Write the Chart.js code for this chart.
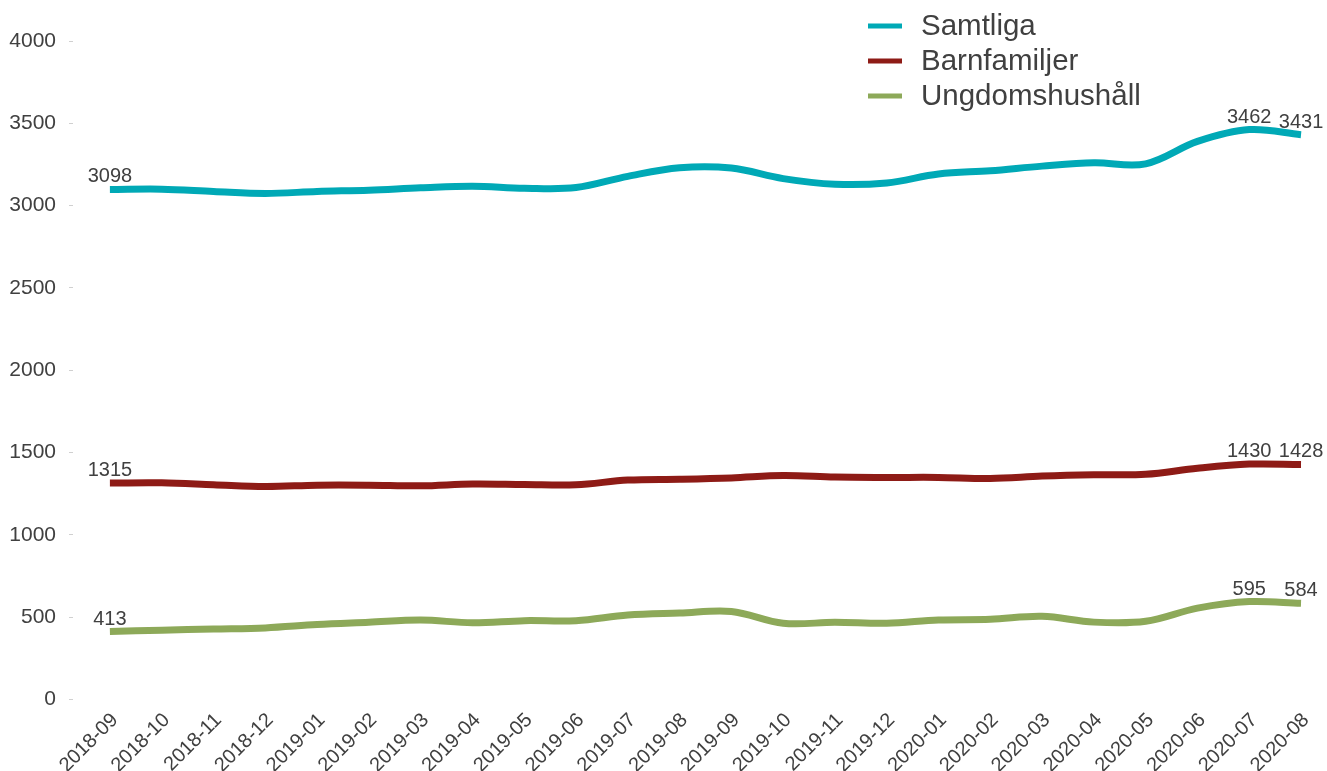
<!DOCTYPE html>
<html><head><meta charset="utf-8">
<script src="https://cdn.jsdelivr.net/npm/chart.js@4.4.0/dist/chart.umd.min.js"></script>
<style>html,body{margin:0;padding:0;background:#fff;overflow:hidden}#wrap{width:1327px;height:771px;position:relative}</style>
</head><body><div id="wrap"><canvas id="c"></canvas></div>
<script>
const categories = ['2018-09','2018-10','2018-11','2018-12','2019-01','2019-02','2019-03','2019-04','2019-05','2019-06','2019-07','2019-08','2019-09','2019-10','2019-11','2019-12','2020-01','2020-02','2020-03','2020-04','2020-05','2020-06','2020-07','2020-08'];
const samtliga = [3098,3100,3086,3074,3086,3094,3108,3118,3106,3110,3178,3230,3228,3164,3130,3138,3192,3212,3240,3260,3254,3390,3462,3431];
const barnfamiljer = [1315,1316,1305,1294,1302,1302,1298,1309,1306,1304,1333,1338,1346,1360,1351,1349,1349,1343,1357,1365,1368,1405,1430,1428];
const ungdomshushall = [413,421,428,435,455,469,483,466,479,479,513,525,535,463,469,463,483,487,505,470,475,555,595,584];
const seriesNames = ['Samtliga','Barnfamiljer','Ungdomshushåll'];
const seriesColors = ['#00A9B6','#8E1B16','#8DA959'];
const yMin = 0, yMax = 4000, yStep = 500;
const labeledIndices = [0, 22, 23];

const FONT = "'Liberation Sans', Arial, sans-serif";
const TEXT = '#404040';

const dataLabelPlugin = {
  id: 'dataLabels',
  afterDatasetsDraw(chart) {
    const ctx = chart.ctx;
    ctx.save();
    ctx.font = '20px ' + FONT;
    ctx.fillStyle = TEXT;
    ctx.textAlign = 'center';
    ctx.textBaseline = 'alphabetic';
    chart.data.datasets.forEach((ds, di) => {
      const meta = chart.getDatasetMeta(di);
      labeledIndices.forEach(i => {
        const p = meta.data[i];
        ctx.fillText(String(ds.data[i]), p.x, p.y - 7);
      });
    });
    ctx.restore();
  }
};

const legendPlugin = {
  id: 'customLegend',
  afterDraw(chart) {
    const ctx = chart.ctx;
    ctx.save();
    ctx.font = '29.5px ' + FONT;
    ctx.textBaseline = 'middle';
    ctx.textAlign = 'left';
    chart.data.datasets.forEach((ds, i) => {
      const y = 26 + i * 35;
      ctx.strokeStyle = ds.borderColor;
      ctx.lineWidth = 5;
      ctx.beginPath();
      ctx.moveTo(868, y);
      ctx.lineTo(902, y);
      ctx.stroke();
      ctx.fillStyle = TEXT;
      ctx.fillText(ds.label, 921, y + 1);
    });
    ctx.restore();
  }
};

const seriesData = [samtliga, barnfamiljer, ungdomshushall];

new Chart(document.getElementById('c'), {
  type: 'line',
  data: {
    labels: categories,
    datasets: seriesData.map((d, i) => ({
      label: seriesNames[i],
      data: d,
      borderColor: seriesColors[i],
      backgroundColor: seriesColors[i],
      borderWidth: 7,
      pointRadius: 0,
      tension: 0.35,
      fill: false
    }))
  },
  options: {
    responsive: true,
    maintainAspectRatio: false,
    animation: false,
    layout: { padding: { top: 41, right: 0, left: 0, bottom: 0 } },
    plugins: { legend: { display: false }, tooltip: { enabled: false } },
    scales: {
      x: {
        offset: true,
        grid: { display: false, drawTicks: false },
        border: { display: false },
        ticks: {
          font: { family: FONT, size: 20 },
          color: TEXT,
          maxRotation: 45, minRotation: 45,
          autoSkip: false,
          padding: 9,
          labelOffset: 5
        },
        afterFit(scale) { scale.height = 71.5; }
      },
      y: {
        min: yMin, max: yMax,
        grid: { display: true, drawOnChartArea: false, drawTicks: true, tickLength: 15, tickBorderDash: [4, 30], color: '#d0d0d0' },
        border: { display: false },
        ticks: {
          stepSize: yStep,
          font: { family: FONT, size: 21 },
          color: TEXT,
          padding: 13,
          callback: (v) => String(v)
        },
        afterFit(scale) { scale.width = 84; }
      }
    }
  },
  plugins: [dataLabelPlugin, legendPlugin]
});
</script></body></html>
